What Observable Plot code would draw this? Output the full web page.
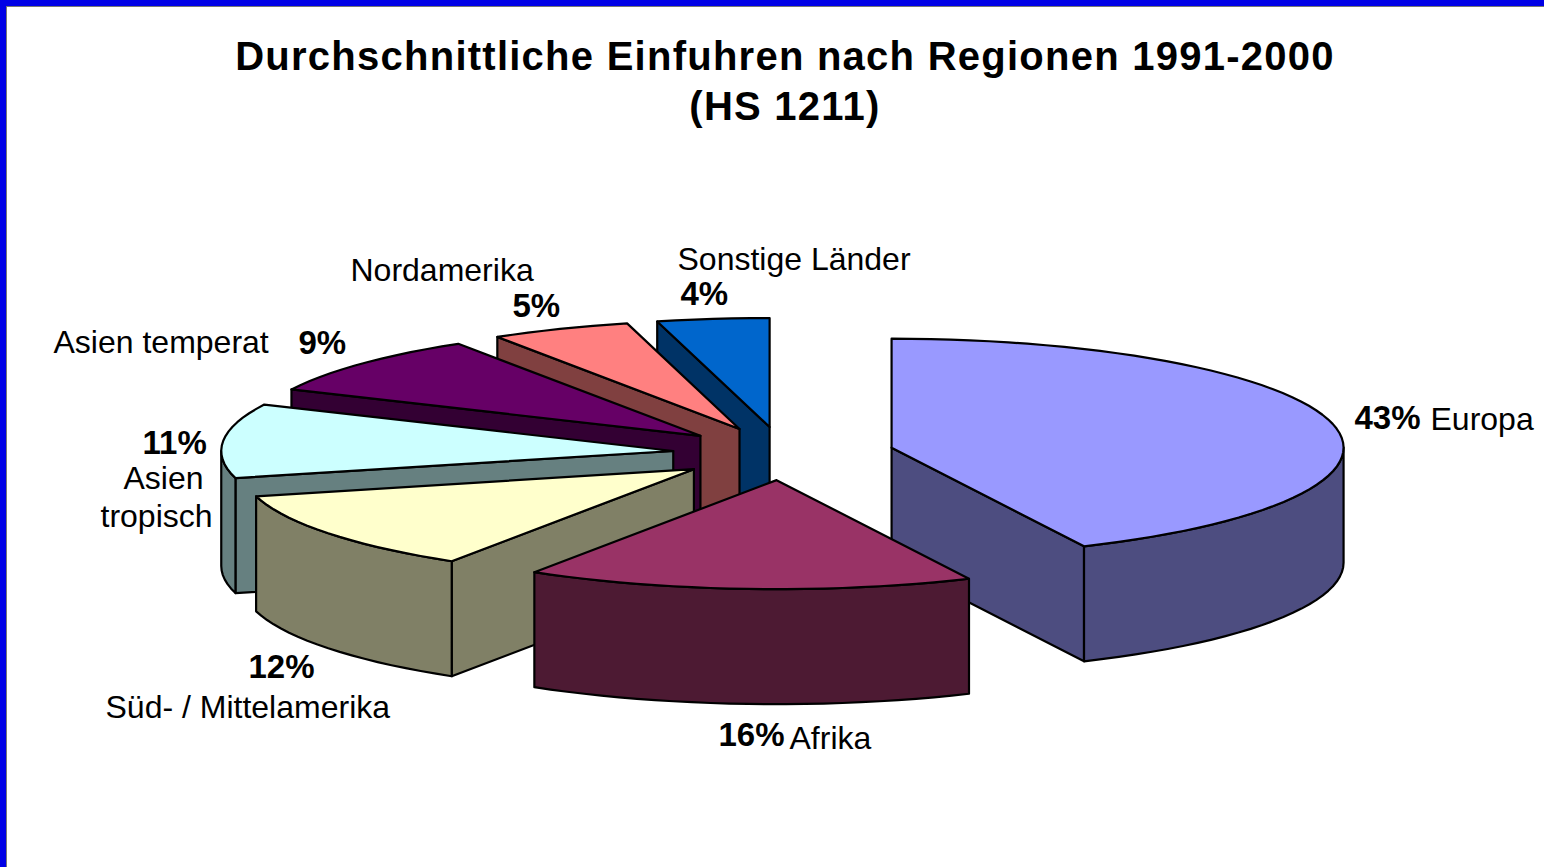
<!DOCTYPE html>
<html lang="de">
<head>
<meta charset="utf-8">
<title>Durchschnittliche Einfuhren nach Regionen 1991-2000</title>
<script src="https://cdn.jsdelivr.net/npm/d3@7"></script>
<script src="https://cdn.jsdelivr.net/npm/@observablehq/plot@0.6"></script>
<style>
  html, body { margin: 0; padding: 0; background: #fff; overflow: hidden; }
  #frame { width: 1538px; height: 861px; border-top: 6px solid #0000e6; border-left: 6px solid #0000e6; position: relative; box-shadow: inset 1px 1px 0 #777; }
  #heading { height: 144px; box-sizing: border-box; padding: 25px 0 0 20px; text-align: center;
    font: bold 40px/50px "Liberation Sans", Arial, sans-serif; letter-spacing: 1.25px; color: #000; }
  #chart svg { display: block; }
</style>
</head>
<body>
<div id="frame">
  <div id="heading"></div>
  <div id="chart"></div>
</div>
<script>
// ---- chart values ----
const titleLines = ["Durchschnittliche Einfuhren nach Regionen 1991-2000", "(HS 1211)"];
const regions = ["Europa", "Afrika", "Süd- / Mittelamerika", "Asien tropisch", "Asien temperat", "Nordamerika", "Sonstige Länder"];
const shares = [43, 16, 12, 11, 9, 5, 4];
const topColours = ["#9999ff", "#993366", "#ffffcc", "#ccffff", "#660066", "#ff8080", "#0066cc"];
const wallColours = ["#4d4d80", "#4d1a33", "#808066", "#668080", "#330033", "#804040", "#003366"];
const paintOrder = [6, 5, 4, 3, 2, 0, 1]; // back to front

// ---- pie layout (pixels on the page) ----
const pageLeft = 6, svgTop = 150, svgW = 1538, svgH = 717;
const cx = 783, cy = 453, rx = 452, ry = 109;
const explode = 0.245, depth = 115 / ry;

// ---- labels: [text, bold, left, baseline] (pixels on the page) ----
const labels = [
  ["43%", true, 1354, 428], ["Europa", false, 1430, 429],
  ["16%", true, 718, 745], ["Afrika", false, 789, 748],
  ["12%", true, 248, 677], ["Süd- / Mittelamerika", false, 105, 717],
  ["11%", true, 142, 453], ["Asien", false, 123, 488], ["tropisch", false, 100, 526],
  ["9%", true, 298, 353], ["Asien temperat", false, 53, 352],
  ["5%", true, 512, 316], ["Nordamerika", false, 350, 280],
  ["4%", true, 680, 304], ["Sonstige Länder", false, 677, 269]
];

// ---- geometry derived from the shares ----
const deg = Math.PI / 180;
const total = d3.sum(shares);
const cum = d3.cumsum(shares);
const faces = [];
const sliceFaces = shares.map((s, i) => {
  const a0 = (i ? cum[i - 1] : 0) / total * 360;
  const a1 = cum[i] / total * 360;
  const mid = (a0 + a1) / 2 * deg;
  const ax = explode * Math.sin(mid), ay = explode * Math.cos(mid);
  const rim = (a) => ({x: ax + Math.sin(a * deg), y: ay + Math.cos(a * deg)});
  const apex = {x: ax, y: ay};
  const down = (p) => ({x: p.x, y: p.y - depth});
  const arc = (from, to) => {
    const n = Math.max(2, Math.ceil((to - from) / 2.5));
    return d3.range(n + 1).map(k => rim(from + (to - from) * k / n));
  };
  const out = [];
  const wall = (p) => out.push({fill: wallColours[i], pts: [apex, p, down(p), down(apex), apex]});
  if (a0 >= 180) wall(rim(a0));
  if (a1 <= 180) wall(rim(a1));
  const lo = Math.max(a0, 90), hi = Math.min(a1, 270);
  if (lo < hi) {
    const edge = arc(lo, hi);
    out.push({fill: wallColours[i], pts: [...edge, ...edge.map(down).reverse(), edge[0]]});
  }
  out.push({fill: topColours[i], pts: [apex, ...arc(a0, a1), apex]});
  return out;
});
paintOrder.forEach(i => faces.push(...sliceFaces[i]));

const textRows = labels.map(([text, bold, left, base]) => ({
  text, bold, x: (left - cx) / rx, y: (cy - base) / ry
}));
const textFont = {
  fontFamily: "'Liberation Sans', Arial, sans-serif",
  textAnchor: "start", lineAnchor: "bottom",
  x: "x", y: "y", text: "text"
};

d3.select("#heading").selectAll("div").data(titleLines).join("div").text(d => d);

const plot = Plot.plot({
  width: svgW, height: svgH,
  marginTop: 0, marginRight: 0, marginBottom: 0, marginLeft: 0,
  x: {type: "linear", domain: [-1, 1], range: [cx - rx - pageLeft, cx + rx - pageLeft], axis: null},
  y: {type: "linear", domain: [-1, 1], range: [cy + ry - svgTop, cy - ry - svgTop], axis: null},
  style: {background: "transparent"},
  marks: [
    ...faces.map(f => Plot.line(f.pts, {
      x: "x", y: "y", fill: f.fill, stroke: "#000", strokeWidth: 2.2,
      strokeLinejoin: "round", strokeLinecap: "round"
    })),
    Plot.text(textRows.filter(d => !d.bold), {...textFont, fontSize: 32, fill: "#000"}),
    Plot.text(textRows.filter(d => d.bold), {...textFont, fontSize: 33, fontWeight: "bold", fill: "#000"})
  ]
});
document.getElementById("chart").append(plot);
</script>
</body>
</html>
